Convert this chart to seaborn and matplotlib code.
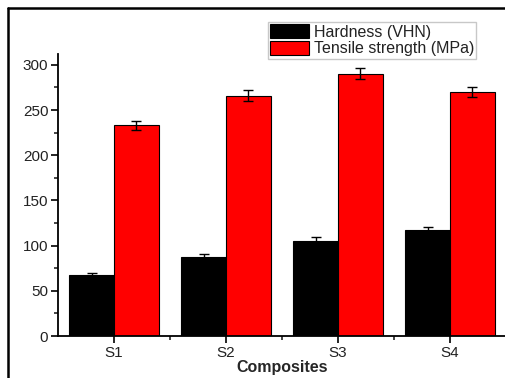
import pandas as pd
import matplotlib
matplotlib.use("Agg")
import matplotlib.pyplot as plt
import seaborn as sns
from matplotlib.lines import Line2D

sns.set_style("ticks")
plt.rcParams['font.family'] = ['Liberation Sans', 'DejaVu Sans']

composites = ["S1", "S2", "S3", "S4"]
hardness = [67, 87, 105, 117]
hardness_err = [2.5, 3.5, 4, 4]
tensile = [233, 266, 290, 270]
tensile_err = [5, 6, 6, 6]
labels = ["Hardness (VHN)", "Tensile strength (MPa)"]

df = pd.DataFrame({
    "Composite": composites * 2,
    "Property": [labels[0]] * 4 + [labels[1]] * 4,
    "Value": hardness + tensile,
})

fig = plt.figure(figsize=(5.06, 3.78), dpi=100)
ax = fig.add_axes([58 / 506, 1 - 336 / 378, 1 - 58 / 506, (336 - 54) / 378])

sns.barplot(data=df, x="Composite", y="Value", hue="Property",
            palette=["black", "red"], edgecolor="black", linewidth=0.8,
            errorbar=None, saturation=1, ax=ax)

# error bars on top of the bars
for cont, errs in zip(ax.containers, [hardness_err, tensile_err]):
    xs = [b.get_x() + b.get_width() / 2 for b in cont]
    ys = [b.get_height() for b in cont]
    ax.errorbar(xs, ys, yerr=errs, fmt="none", ecolor="black",
                elinewidth=1, capsize=3.5, capthick=1)

ax.set_xlim(-0.5, 3.5)
ax.set_ylim(0, 312)
ax.set_yticks(range(0, 301, 50))
ax.set_yticks(range(25, 301, 50), minor=True)
ax.set_xticks([0.5, 1.5, 2.5], minor=True)
ax.tick_params(axis="both", which="major", direction="out", length=5,
               width=1.2, labelsize=11, colors="black", labelcolor="#222222",
               pad=2)
ax.tick_params(axis="both", which="minor", direction="out", length=3, width=1.2)
ax.set_ylabel("")
ax.set_xlabel("Composites", fontsize=11.5, fontweight="bold", labelpad=0)

for s in ["top", "right"]:
    ax.spines[s].set_visible(False)
for s in ["left", "bottom"]:
    ax.spines[s].set_linewidth(1.3)
    ax.spines[s].set_color("black")

leg = ax.legend(loc="upper left", bbox_to_anchor=(268 / 506, 1 - 22 / 378),
                bbox_transform=fig.transFigure, frameon=True, fancybox=False,
                fontsize=11.5, handlelength=2.4, handleheight=0.95,
                labelspacing=0.08, handletextpad=0.3, borderpad=0.15,
                borderaxespad=0, title=None)
leg.get_frame().set_edgecolor("#bbbbbb")
leg.get_frame().set_linewidth(1)
for t in leg.get_texts():
    t.set_color("#222222")

# outer frame of the picture
fig.add_artist(Line2D([8 / 506, 1], [1 - 8 / 378] * 2, color="black", lw=1.8,
                      transform=fig.transFigure))
fig.add_artist(Line2D([8 / 506] * 2, [0, 1 - 8 / 378], color="black", lw=1.8,
                      transform=fig.transFigure))

fig.savefig("out.png", dpi=100)
